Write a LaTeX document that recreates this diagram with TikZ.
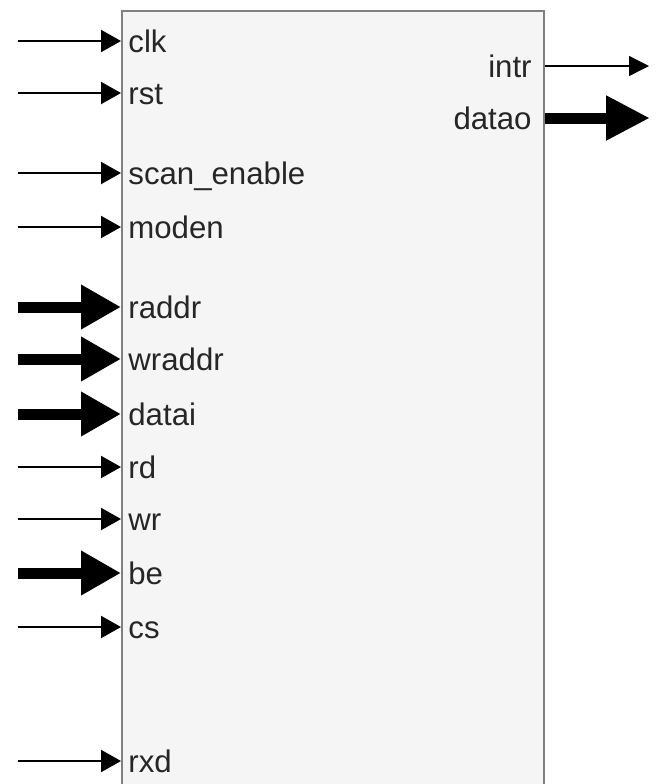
\documentclass[tikz,border=0pt]{standalone}
\usepackage{fontspec}
\setmainfont{Liberation Sans}
\usetikzlibrary{arrows.meta}

\begin{document}
\begin{tikzpicture}
  [x=0.5pt,y=-0.5pt,
   every node/.style={font=\fontsize{15.6}{18}\selectfont,text=black!85},
   block/.style={draw=black!50,fill=black!4,line width=1pt,minimum width=211pt,minimum height=400pt,inner sep=0pt},
   port/.style={anchor=base west,inner sep=0pt},
   oport/.style={anchor=base east,inner sep=0pt},
   wire/.style={line width=1.1pt,-{Triangle[length=10pt,width=11pt]}},
   bus/.style={line width=5.5pt,-{Triangle[length=20pt,width=21pt]}}]
  \useasboundingbox (0,0) rectangle (656,784);
  \clip (0,0) rectangle (656,784);

  \node[block] (core) at (333,411) {};

  % inputs
  \coordinate (clk-in) at (18,41);
  \coordinate (rst-in) at (18,93);
  \coordinate (scan-in) at (18,173);
  \coordinate (moden-in) at (18,227);
  \coordinate (raddr-in) at (18,307);
  \coordinate (wraddr-in) at (18,359);
  \coordinate (datai-in) at (18,414);
  \coordinate (rd-in) at (18,467);
  \coordinate (wr-in) at (18,519);
  \coordinate (be-in) at (18,573);
  \coordinate (cs-in) at (18,627);
  \coordinate (rxd-in) at (18,761);

  \node[port] (clk) at (128,52) {clk};
  \node[port] (rst) at (128,104) {rst};
  \node[port] (scan) at (128,184) {scan\_enable};
  \node[port] (moden) at (128,238) {moden};
  \node[port] (raddr) at (128,318) {raddr};
  \node[port] (wraddr) at (128,370) {wraddr};
  \node[port] (datai) at (128,425) {datai};
  \node[port] (rd) at (128,478) {rd};
  \node[port] (wr) at (128,530) {wr};
  \node[port] (be) at (128,584) {be};
  \node[port] (cs) at (128,638) {cs};
  \node[port] (rxd) at (128,772) {rxd};

  \draw[wire] (clk-in) -- (clk-in -| core.west);
  \draw[wire] (rst-in) -- (rst-in -| core.west);
  \draw[wire] (scan-in) -- (scan-in -| core.west);
  \draw[wire] (moden-in) -- (moden-in -| core.west);
  \draw[bus] (raddr-in) -- (raddr-in -| core.west);
  \draw[bus] (wraddr-in) -- (wraddr-in -| core.west);
  \draw[bus] (datai-in) -- (datai-in -| core.west);
  \draw[wire] (rd-in) -- (rd-in -| core.west);
  \draw[wire] (wr-in) -- (wr-in -| core.west);
  \draw[bus] (be-in) -- (be-in -| core.west);
  \draw[wire] (cs-in) -- (cs-in -| core.west);
  \draw[wire] (rxd-in) -- (rxd-in -| core.west);

  % outputs
  \coordinate (intr-out) at (649,66);
  \coordinate (datao-out) at (650,118);

  \node[oport] (intr) at (532,77) {intr};
  \node[oport] (datao) at (532,129) {datao};

  \draw[line width=0.7pt,-{Triangle[length=10pt,width=10pt]}] (intr-out -| core.east) -- (intr-out);
  \draw[line width=5.5pt,-{Triangle[length=22pt,width=21pt]}] (datao-out -| core.east) -- (datao-out);
\end{tikzpicture}
\end{document}
